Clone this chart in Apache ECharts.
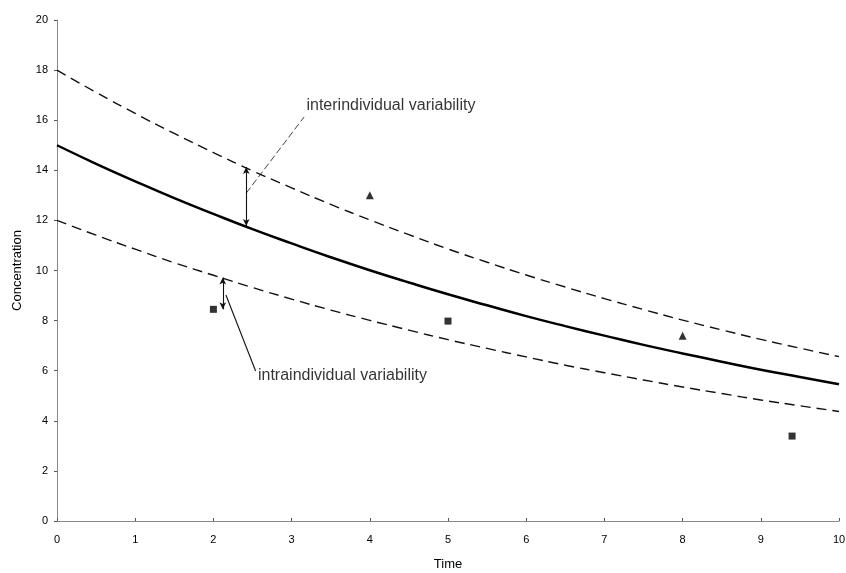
<!DOCTYPE html>
<html><head><meta charset="utf-8">
<script src="https://cdn.jsdelivr.net/npm/echarts@6/dist/echarts.min.js"></script>
<style>html,body{margin:0;padding:0;background:#fff}#c{width:846px;height:573px}</style>
</head><body><div id="c"></div>
<script>
var times = [0,0.5,1,1.5,2,2.5,3,3.5,4,4.5,5,5.5,6,6.5,7,7.5,8,8.5,9,9.5,10];
var meanConc = [15.00,14.26,13.56,12.89,12.26,11.65,11.08,10.53,10.01,9.52,9.05,8.61,8.18,7.78,7.40,7.03,6.69,6.36,6.04,5.75,5.46];
var upperConc = [18.00,17.11,16.27,15.47,14.71,13.98,13.30,12.64,12.02,11.43,10.86,10.33,9.82,9.34,8.88,8.44,8.02,7.63,7.25,6.90,6.56];
var lowerConc = [12.00,11.41,10.85,10.31,9.81,9.32,8.86,8.42,8.01,7.62,7.24,6.89,6.55,6.22,5.92,5.63,5.35,5.09,4.83,4.60,4.37];
var triTimes = [4, 8];
var triConc = [13.0, 7.4];
var sqTimes = [2, 5, 9.4];
var sqConc = [8.45, 7.98, 3.39];
var interArrow = [[2.42, 14.13], [2.42, 11.78]];
var interLeader = [[2.42, 13.09], [3.16, 16.13]];
var interLabel = [3.19, 16.6];
var intraArrow = [[2.12, 9.72], [2.12, 8.45]];
var intraLeader = [[2.16, 9.02], [2.54, 5.99]];
var intraLabel = [2.57, 5.82];

function pair(a){return a.map(function(v,i){return [times[i], v];});}
function zip(x,y){return x.map(function(v,i){return [v, y[i]];});}

var chart = echarts.init(document.getElementById('c'));
var font = 'Liberation Sans, Arial, sans-serif';
chart.setOption({
  animation:false,
  backgroundColor:'#fff',
  grid:{left:57,right:7,top:20,bottom:52,outerBoundsMode:'none',containLabel:false},
  xAxis:{type:'value',min:0,max:10,interval:1,
    name:'Time',nameLocation:'middle',nameGap:37,
    nameTextStyle:{fontFamily:font,fontSize:13,color:'#000'},
    axisLine:{show:true,lineStyle:{color:'#888',width:1}},
    axisTick:{show:true,length:3,inside:true,lineStyle:{color:'#555'}},
    axisLabel:{fontFamily:font,fontSize:11,color:'#000',margin:13},
    splitLine:{show:false}},
  yAxis:{type:'value',min:0,max:20,interval:2,
    name:'Concentration',nameLocation:'middle',nameGap:33,nameRotate:90,
    nameTextStyle:{fontFamily:font,fontSize:13,color:'#000'},
    axisLine:{show:true,lineStyle:{color:'#888',width:1}},
    axisTick:{show:true,length:3,lineStyle:{color:'#555'}},
    axisLabel:{fontFamily:font,fontSize:11,color:'#000',margin:9},
    splitLine:{show:false}},
  series:[
    {type:'line',data:pair(meanConc),smooth:true,symbol:'none',
     lineStyle:{color:'#000',width:2.5}},
    {type:'line',data:pair(upperConc),smooth:true,symbol:'none',
     lineStyle:{color:'#111',width:1.4,type:[10,6]}},
    {type:'line',data:pair(lowerConc),smooth:true,symbol:'none',
     lineStyle:{color:'#111',width:1.4,type:[10,6]}},
    {type:'scatter',data:zip(triTimes,triConc),symbol:'triangle',symbolSize:8,
     itemStyle:{color:'#000'}},
    {type:'scatter',data:zip(sqTimes,sqConc),symbol:'rect',symbolSize:7,
     itemStyle:{color:'#000'}},
    {type:'scatter',data:[interLabel],symbolSize:0,
     label:{show:true,position:'right',distance:0,formatter:'interindividual variability',
       fontFamily:font,fontSize:16,color:'#000'},
     markLine:{silent:true,animation:false,label:{show:false},
       data:[
         [{coord:interArrow[0],symbol:'arrow',symbolSize:[5,7]},{coord:interArrow[1],symbol:'arrow',symbolSize:[5,7]}],
         [{coord:interLeader[0],symbol:'none',lineStyle:{width:0.8,type:[7,3]}},{coord:interLeader[1],symbol:'none'}]
       ],
       lineStyle:{color:'#111',width:1.1,type:'solid'}}},
    {type:'scatter',data:[intraLabel],symbolSize:0,
     label:{show:true,position:'right',distance:0,formatter:'intraindividual variability',
       fontFamily:font,fontSize:16,color:'#000'},
     markLine:{silent:true,animation:false,label:{show:false},
       data:[
         [{coord:intraArrow[0],symbol:'arrow',symbolSize:[5,7]},{coord:intraArrow[1],symbol:'arrow',symbolSize:[5,7]}],
         [{coord:intraLeader[0],symbol:'none'},{coord:intraLeader[1],symbol:'none'}]
       ],
       lineStyle:{color:'#111',width:1.1,type:'solid'}}}
  ]
});
</script></body></html>
